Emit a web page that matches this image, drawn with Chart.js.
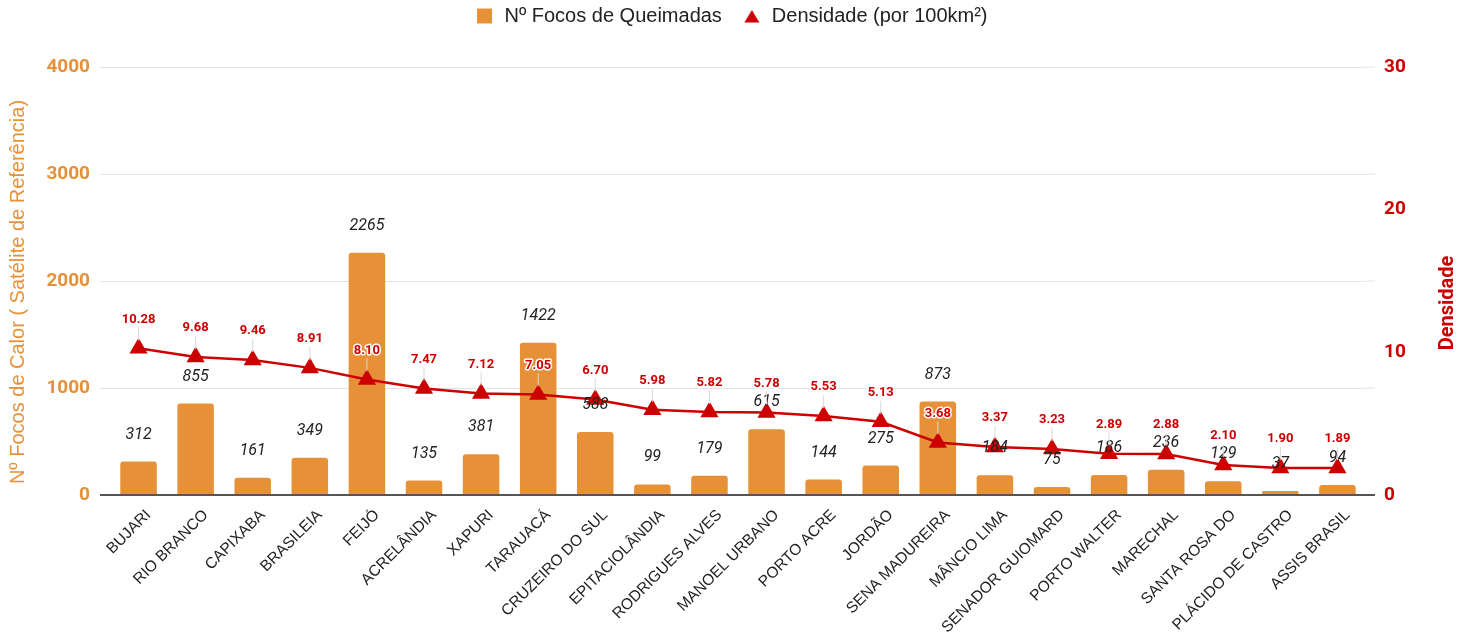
<!DOCTYPE html>
<html>
<head>
<meta charset="utf-8">
<script src="https://cdn.jsdelivr.net/npm/chart.js@4/dist/chart.umd.min.js"></script>
<style>
  html, body { margin: 0; padding: 0; background: #fff; }
  #wrap { width: 1462px; height: 637px; }
</style>
</head>
<body>
<div id="wrap"><canvas id="fireChart"></canvas></div>
<script>
// data
const municipios = ['BUJARI', 'RIO BRANCO', 'CAPIXABA', 'BRASILEIA', 'FEIJÓ', 'ACRELÂNDIA', 'XAPURI',
    'TARAUACÁ', 'CRUZEIRO DO SUL', 'EPITACIOLÂNDIA', 'RODRIGUES ALVES', 'MANOEL URBANO', 'PORTO ACRE',
    'JORDÃO', 'SENA MADUREIRA', 'MÂNCIO LIMA', 'SENADOR GUIOMARD', 'PORTO WALTER', 'MARECHAL',
    'SANTA ROSA DO', 'PLÁCIDO DE CASTRO', 'ASSIS BRASIL'];
const focos = [312, 855, 161, 349, 2265, 135, 381, 1422, 588, 99, 179, 615, 144, 275, 873, 184, 75, 186, 236, 129, 37, 94];
const densidade = [10.28, 9.68, 9.46, 8.91, 8.10, 7.47, 7.12, 7.05, 6.70, 5.98, 5.82, 5.78, 5.53, 5.13, 3.68, 3.37, 3.23, 2.89, 2.88, 2.10, 1.90, 1.89];
const focosTicks = [0, 1000, 2000, 3000, 4000];
const densTicks = [0, 10, 20, 30];
const tituloFocos = 'Nº Focos de Calor ( Satélite de Referência)';
const tituloDens = 'Densidade';

const ORANGE = '#E69138';
const RED = '#CC0000';

// small legend marker, the default triangle is too big
function legendTriangle() {
    const c = document.createElement('canvas');
    c.width = 16;
    c.height = 14;
    const g = c.getContext('2d');
    g.fillStyle = RED;
    g.beginPath();
    g.moveTo(8, 1);
    g.lineTo(15.5, 13.5);
    g.lineTo(0.5, 13.5);
    g.closePath();
    g.fill();
    return c;
}
const triIcon = legendTriangle();

// value labels drawn by hand (no datalabels plugin offline)
const valueLabels = {
    id: 'valueLabels',
    afterDatasetsDraw(chart) {
        const ctx = chart.ctx;
        ctx.save();
        ctx.textAlign = 'center';
        ctx.textBaseline = 'middle';

        const bars = chart.getDatasetMeta(0).data;
        ctx.font = 'italic 16px Roboto';
        ctx.fillStyle = '#222';
        bars.forEach((b, i) => {
            ctx.fillText(String(focos[i]), b.x, b.y - 27);
        });

        const pts = chart.getDatasetMeta(1).data;
        pts.forEach((p, i) => {
            const ly = p.y - 29;
            ctx.strokeStyle = '#d9d9d9';
            ctx.lineWidth = 1;
            ctx.beginPath();
            ctx.moveTo(p.x, ly + 8);
            ctx.lineTo(p.x, p.y - 8);
            ctx.stroke();
            ctx.font = 'bold 13px Roboto';
            const txt = densidade[i].toFixed(2);
            ctx.lineWidth = 3;
            ctx.lineJoin = 'round';
            ctx.strokeStyle = '#fff';
            ctx.strokeText(txt, p.x, ly);
            ctx.fillStyle = RED;
            ctx.fillText(txt, p.x, ly);
        });
        ctx.restore();
    }
};

// grid stubs past the right edge + the two axis titles (sit a bit low in the original)
const axisExtras = {
    id: 'axisExtras',
    beforeDatasetsDraw(chart) {
        const ctx = chart.ctx;
        const y = chart.scales.y;
        const right = chart.chartArea.right;
        ctx.save();
        focosTicks.forEach(v => {
            const py = y.getPixelForValue(v);
            ctx.strokeStyle = v === 0 ? '#555' : '#e3e3e3';
            ctx.lineWidth = v === 0 ? 2 : 1;
            ctx.beginPath();
            ctx.moveTo(right, py);
            ctx.lineTo(right + 9, py);
            ctx.stroke();
        });

        ctx.textAlign = 'center';
        ctx.textBaseline = 'middle';
        ctx.save();
        ctx.translate(18, 292);
        ctx.rotate(-Math.PI / 2);
        ctx.font = '20px "Liberation Sans", Arial';
        ctx.fillStyle = ORANGE;
        ctx.fillText(tituloFocos, 0, 0);
        ctx.restore();

        ctx.save();
        ctx.translate(1448, 303);
        ctx.rotate(-Math.PI / 2);
        ctx.font = 'bold 20px Roboto';
        ctx.fillStyle = RED;
        ctx.fillText(tituloDens, 0, 0);
        ctx.restore();
        ctx.restore();
    }
};

// legend: pulled up, extra room under it
const legendGap = {
    id: 'legendGap',
    beforeLayout(chart) {
        const lg = chart.legend;
        if (lg && !lg._gapped) {
            const fit = lg.fit;
            lg.fit = function () {
                fit.call(this);
                this.height += 17;
            };
            lg._gapped = true;
        }
    },
    afterLayout(chart) {
        const lg = chart.legend;
        if (lg) {
            lg.top -= 14;
            lg.bottom -= 14;
        }
    }
};

new Chart(document.getElementById('fireChart'), {
    data: {
        labels: municipios,
        datasets: [{
            type: 'bar',
            label: 'Nº Focos de Queimadas',
            data: focos,
            backgroundColor: ORANGE,
            borderRadius: 3,
            borderSkipped: 'bottom',
            barPercentage: 0.64,
            categoryPercentage: 1,
            pointStyle: 'rect',
            yAxisID: 'y',
            order: 2
        }, {
            type: 'line',
            label: 'Densidade (por 100km²)',
            data: densidade,
            borderColor: RED,
            backgroundColor: RED,
            borderWidth: 2.5,
            pointStyle: 'triangle',
            pointRadius: 8,
            pointHoverRadius: 8,
            tension: 0,
            yAxisID: 'y1',
            order: 1
        }]
    },
    options: {
        responsive: true,
        maintainAspectRatio: false,
        animation: false,
        layout: { padding: 0 },
        plugins: {
            legend: {
                position: 'top',
                labels: {
                    usePointStyle: true,
                    boxHeight: 15,
                    padding: 20,
                    color: '#222',
                    font: { family: '"Liberation Sans", Arial', size: 20 },
                    sort: (a, b) => a.datasetIndex - b.datasetIndex,
                    generateLabels(chart) {
                        const items = Chart.defaults.plugins.legend.labels.generateLabels(chart);
                        items.forEach(it => {
                            if (it.datasetIndex === 1) it.pointStyle = triIcon;
                        });
                        return items;
                    }
                }
            },
            tooltip: { enabled: false }
        },
        scales: {
            x: {
                grid: { display: false },
                border: { display: false },
                ticks: {
                    maxRotation: 45,
                    minRotation: 45,
                    autoSkip: false,
                    labelOffset: 10,
                    color: '#222',
                    font: { family: '"Liberation Sans", Arial', size: 15.5 }
                },
                afterFit(scale) { scale.height = 142; }
            },
            y: {
                position: 'left',
                min: 0,
                max: 4000,
                afterBuildTicks(scale) { scale.ticks = focosTicks.map(v => ({ value: v })); },
                grid: {
                    color: ctx => ctx.tick && ctx.tick.value === 0 ? '#555' : '#e3e3e3',
                    lineWidth: ctx => ctx.tick && ctx.tick.value === 0 ? 2 : 1,
                    tickLength: 10
                },
                border: { display: false },
                ticks: {
                    color: ORANGE,
                    padding: 10,
                    callback: v => String(v),
                    font: { family: 'Roboto', size: 19, weight: 'bold' }
                },
                afterFit(scale) { scale.width = 110; }
            },
            y1: {
                position: 'right',
                min: 0,
                max: 30,
                afterBuildTicks(scale) { scale.ticks = densTicks.map(v => ({ value: v })); },
                grid: { drawOnChartArea: false, drawTicks: false },
                border: { display: false },
                ticks: {
                    color: RED,
                    padding: 18,
                    callback: v => String(v),
                    font: { family: 'Roboto', size: 19, weight: 'bold' }
                },
                afterFit(scale) { scale.width = 96; }
            }
        }
    },
    plugins: [valueLabels, axisExtras, legendGap]
});
</script>
</body>
</html>
